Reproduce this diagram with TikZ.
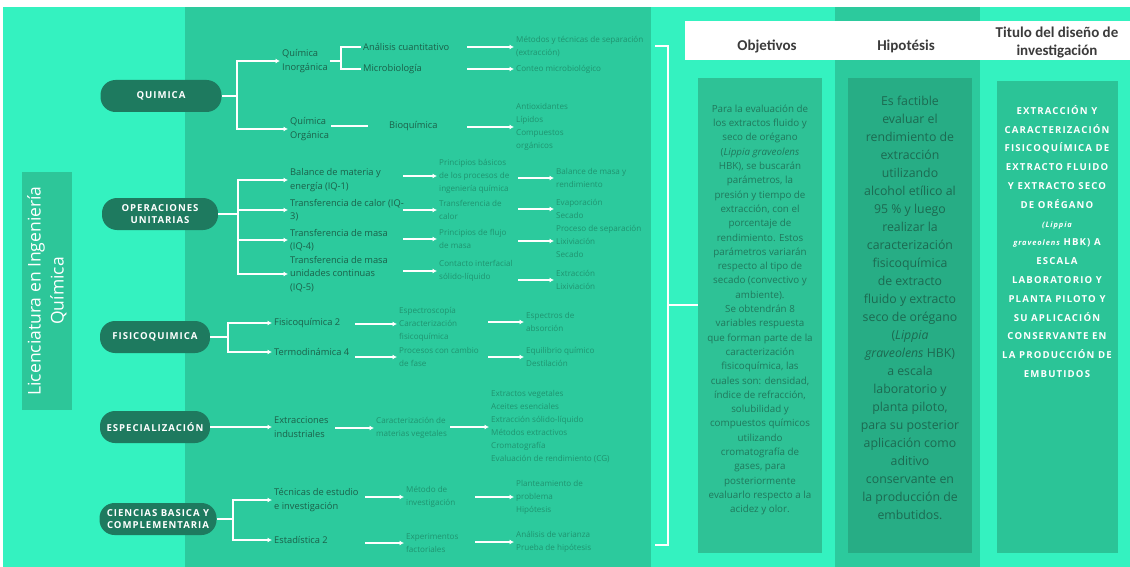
\documentclass[tikz,border=0pt]{standalone}
\usepackage{fontspec}
\setmainfont{Open Sans}
\newfontfamily\pillfont[LetterSpace=10]{Open Sans}
\newfontfamily\titfont[LetterSpace=12]{Open Sans}
\newfontfamily\headfont{Carlito}
\usetikzlibrary{arrows.meta}

\definecolor{mint}{HTML}{34F2C0}
\definecolor{sea}{HTML}{2CCA9D}
\definecolor{licc}{HTML}{2DC699}
\definecolor{pillc}{HTML}{1E7A5F}
\definecolor{inkc}{HTML}{1B6049}
\definecolor{palec}{HTML}{1F936F}
\definecolor{objc}{HTML}{2EC296}
\definecolor{hipc}{HTML}{27AD85}
\definecolor{titc}{HTML}{2BC497}
\definecolor{objink}{HTML}{20785C}
\definecolor{hipink}{HTML}{1C6A51}
\definecolor{headink}{HTML}{3B3B3B}

\tikzset{
  pill/.style={fill=pillc, rounded corners=15pt, minimum height=32pt, inner sep=2pt, align=center, text=white, font=\pillfont\bfseries\fontsize{9.6}{12.5}\selectfont},
  lvl/.style={anchor=west, inner sep=2pt, align=left, text=inkc, font=\fontsize{9.3}{13.5}\selectfont},
  sub/.style={lvl, text=palec, font=\fontsize{8.1}{13}\selectfont},
  wire/.style={draw=white, line width=1.6pt},
  arr/.style={wire, -{Latex[length=4.5pt,width=5pt]}},
  colbox/.style={minimum width=124pt, minimum height=475pt, inner sep=0pt},
  coltext/.style={align=center, inner sep=0pt},
  head/.style={align=center, inner sep=0pt, text=headink, font=\headfont\bfseries\fontsize{15}{18}\selectfont}
}

\begin{document}
\begin{tikzpicture}[x=1pt,y=-1pt]
    \useasboundingbox (0,0) rectangle (1130,567);
    \fill[white] (0,0) rectangle (1130,567);
    \fill[mint] (3,7) rectangle (1130,567);
    \fill[sea] (185,7) rectangle (651,567);
    \fill[sea] (835,7) rectangle (980,567);

    \node (lic) at (47,291) [rotate=90, fill=licc, text=white, minimum width=238pt, minimum height=50pt, inner sep=0pt, align=center, font=\fontsize{17.5}{23}\selectfont]{Licenciatura en Ingeniería\\Química};

    \node (qim) at (161,96) [pill, minimum width=121pt]{QUIMICA};
    \node (oun) at (160,214) [pill, minimum width=116pt]{OPERACIONES\\UNITARIAS};
    \node (fqm) at (155,337) [pill, minimum width=110pt]{FISICOQUIMICA};
    \node (esp) at (155,427) [pill, minimum width=110pt]{ESPECIALIZACIÓN};
    \node (cbc) at (158,519) [pill, minimum width=117pt]{CIENCIAS BASICA Y\\COMPLEMENTARIA};

    % quimica
    \node (qin) at (280,61) [lvl]{Química\\Inorgánica};
    \node (qor) at (288,129) [lvl]{Química\\Orgánica};
    \node (aq) at (361,47) [lvl]{Análisis cuantitativo};
    \node (mic) at (361,69) [lvl]{Microbiología};
    \node (bio) at (387,126) [lvl]{Bioquímica};
    \node (mts) at (514,47) [sub]{Métodos y técnicas de separación\\(extracción)};
    \node (cmi) at (514,69) [sub]{Conteo microbiológico};
    \node (bq3) at (514,127) [sub]{Antioxidantes\\Lípidos\\Compuestos\\orgánicos};

    \coordinate (qb) at (237,96);
    \coordinate (ib) at (341,61);
    \coordinate (q3) at (467,0);

    \draw[wire] (node cs:name=qim,anchor=east) -- (qb);
    \draw[arr] (qb) |- (node cs:name=qin,anchor=west);
    \draw[arr] (qb) |- (node cs:name=qor,anchor=west);
    \draw[wire] (node cs:name=qin,anchor=east) -- (ib);
    \draw[wire] (ib) |- (node cs:name=aq,anchor=west);
    \draw[wire] (ib) |- (node cs:name=mic,anchor=west);
    \draw[wire] (qor.east |- bio.west) -- ([xshift=-19pt]bio.west);
    \draw[arr] (q3 |- mts.west) -- (mts.west);
    \draw[arr] (q3 |- cmi.west) -- (cmi.west);
    \draw[arr] (q3 |- bq3.west) -- (bq3.west);

    % operaciones unitarias
    \node (bme) at (288,180) [lvl]{Balance de materia y\\energía (IQ-1)};
    \node (tca) at (288,210) [lvl]{Transferencia de calor (IQ-\\3)};
    \node (tma) at (288,240) [lvl]{Transferencia de masa\\(IQ-4)};
    \node (tmu) at (288,274) [lvl]{Transferencia de masa\\unidades continuas\\(IQ-5)};
    \node (pbp) at (437,176) [sub]{Principios básicos\\de los procesos de\\ingeniería química};
    \node (tdc) at (437,210) [sub]{Transferencia de\\calor};
    \node (pdm) at (437,239) [sub]{Principios de flujo\\de masa};
    \node (cif) at (437,271) [sub]{Contacto interfacial\\sólido-líquido};
    \node (bmr) at (554,178) [sub]{Balance de masa y\\rendimiento};
    \node (evs) at (554,209) [sub]{Evaporación\\Secado};
    \node (pse) at (554,241) [sub]{Proceso de separación\\Lixiviación\\Secado};
    \node (exl) at (554,280) [sub]{Extracción\\Lixiviación};

    \coordinate (ob) at (238,214);
    \coordinate (o2) at (403,0);
    \coordinate (o3) at (518,0);

    \draw[wire] (node cs:name=oun,anchor=east) -- (ob);
    \draw[arr] (ob) |- (node cs:name=bme,anchor=west);
    \draw[arr] (ob) |- (node cs:name=tca,anchor=west);
    \draw[arr] (ob) |- (node cs:name=tma,anchor=west);
    \draw[arr] (ob) |- (node cs:name=tmu,anchor=west);
    \draw[arr] (o2 |- pbp.west) -- (pbp.west);
    \draw[arr] (o2 |- tdc.west) -- (tdc.west);
    \draw[arr] (o2 |- pdm.west) -- (pdm.west);
    \draw[arr] (o2 |- cif.west) -- (cif.west);
    \draw[arr] (o3 |- bmr.west) -- (bmr.west);
    \draw[arr] (o3 |- evs.west) -- (evs.west);
    \draw[arr] (o3 |- pse.west) -- (pse.west);
    \draw[arr] (o3 |- exl.west) -- (exl.west);

    % fisicoquimica
    \node (fq2) at (272,323) [lvl]{Fisicoquímica 2};
    \node (tm4) at (272,352) [lvl]{Termodinámica 4};
    \node (ecf) at (397,324) [sub]{Espectroscopía\\Caracterización\\fisicoquímica};
    \node (pcf) at (397,357) [sub]{Procesos con cambio\\de fase};
    \node (eab) at (524,322) [sub]{Espectros de\\absorción};
    \node (eqd) at (524,357) [sub]{Equilibrio químico\\Destilación};

    \coordinate (fb) at (228,337);
    \coordinate (f2) at (355,0);
    \coordinate (f3) at (488,0);

    \draw[wire] (node cs:name=fqm,anchor=east) -- (fb);
    \draw[arr] (fb) |- (node cs:name=fq2,anchor=west);
    \draw[arr] (fb) |- (node cs:name=tm4,anchor=west);
    \draw[arr] (f2 |- ecf.west) -- (ecf.west);
    \draw[arr] (f2 |- pcf.west) -- (pcf.west);
    \draw[arr] (f3 |- eab.west) -- (eab.west);
    \draw[arr] (f3 |- eqd.west) -- (eqd.west);

    % especializacion
    \node (ein) at (272,427) [lvl]{Extracciones\\industriales};
    \node (cmv) at (374,428) [sub]{Caracterización de\\materias vegetales};
    \node (lst) at (489,427) [sub]{Extractos vegetales\\Aceites esenciales\\Extracción sólido-líquido\\Métodos extractivos\\Cromatografía\\Evaluación de rendimiento (CG)};

    \coordinate (e2) at (335,0);
    \coordinate (e3) at (450,0);

    \draw[arr] (node cs:name=esp,anchor=east) -- (node cs:name=ein,anchor=west);
    \draw[arr] (e2 |- cmv.west) -- (cmv.west);
    \draw[arr] (e3 |- lst.west) -- (lst.west);

    % ciencias basicas
    \node (tei) at (272,500) [lvl]{Técnicas de estudio\\e investigación};
    \node (est) at (272,540) [lvl]{Estadística 2};
    \node (mdi) at (404,497) [sub]{Método de\\investigación};
    \node (efa) at (404,543) [sub]{Experimentos\\factoriales};
    \node (pph) at (514,497) [sub]{Planteamiento de\\problema\\Hipótesis};
    \node (avp) at (514,542) [sub]{Análisis de varianza\\Prueba de hipótesis};

    \coordinate (cb) at (233,519);
    \coordinate (c2) at (365,0);
    \coordinate (c3) at (475,0);

    \draw[wire] (node cs:name=cbc,anchor=east) -- (cb);
    \draw[arr] (cb) |- (node cs:name=tei,anchor=west);
    \draw[arr] (cb) |- (node cs:name=est,anchor=west);
    \draw[arr] (c2 |- mdi.west) -- (mdi.west);
    \draw[arr] (c2 |- efa.west) -- (efa.west);
    \draw[arr] (c3 |- pph.west) -- (pph.west);
    \draw[arr] (c3 |- avp.west) -- (avp.west);

    % columnas
    \node (obj) at (760,315.5) [colbox, fill=objc]{};
    \node (hip) at (910,315.5) [colbox, fill=hipc]{};
    \node (tit) at (1057.5,317) [colbox, minimum width=121pt, minimum height=471pt, fill=titc]{};
    \node (hdr) at (907.5,40.5) [fill=white, minimum width=445pt, minimum height=39pt, inner sep=0pt]{};
    \node (ho) at (767,46) [head]{Objetivos};
    \node (hh) at (906,46) [head]{Hipotésis};
    \node (ht) at (1057,43) [head]{Titulo del diseño de\\investigación};

    \node (objt) at (760,310) [coltext, text=objink, font=\fontsize{9.8}{14.3}\selectfont]{Para la evaluación de\\los extractos fluido y\\seco de orégano\\(\emph{Lippia graveolens}\\HBK), se buscarán\\parámetros, la\\presión y tiempo de\\extracción, con el\\porcentaje de\\rendimiento. Estos\\parámetros variarán\\respecto al tipo de\\secado (convectivo y\\ambiente).\\Se obtendrán 8\\variables respuesta\\que forman parte de la\\caracterización\\fisicoquímica, las\\cuales son: densidad,\\índice de refracción,\\solubilidad y\\compuestos químicos\\utilizando\\cromatografía de\\gases, para\\posteriormente\\evaluarlo respecto a la\\acidez y olor.};

    \node (hipt) at (910,307.5) [coltext, text=hipink, font=\fontsize{12.3}{18}\selectfont]{Es factible\\evaluar el\\rendimiento de\\extracción\\utilizando\\alcohol etílico al\\95 \% y luego\\realizar la\\caracterización\\fisicoquímica\\de extracto\\fluido y extracto\\seco de orégano\\(\emph{Lippia}\\\emph{graveolens} HBK)\\a escala\\laboratorio y\\planta piloto,\\para su posterior\\aplicación como\\aditivo\\conservante en\\la producción de\\embutidos.};

    \node (titt) at (1057,241.5) [coltext, text=white, font=\titfont\bfseries\fontsize{9.6}{18.8}\selectfont]{EXTRACCIÓN Y\\CARACTERIZACIÓN\\FISICOQUÍMICA DE\\EXTRACTO FLUIDO\\Y EXTRACTO SECO\\DE ORÉGANO\\{\fontsize{7.5}{18.8}\selectfont\itshape (Lippia}\\{\fontsize{7.5}{18.8}\selectfont\itshape graveolens} HBK) A\\ESCALA\\LABORATORIO Y\\PLANTA PILOTO Y\\SU APLICACIÓN\\CONSERVANTE EN\\LA PRODUCCIÓN DE\\EMBUTIDOS};

    \coordinate (bt) at (655,46);
    \coordinate (bb) at (655,545);
    \coordinate (bm) at (668,305);
    \draw[wire] (bt) -| (bm) |- (bb);
    \draw[wire] (bm) -- (obj.west |- bm);

\end{tikzpicture}
\end{document}
